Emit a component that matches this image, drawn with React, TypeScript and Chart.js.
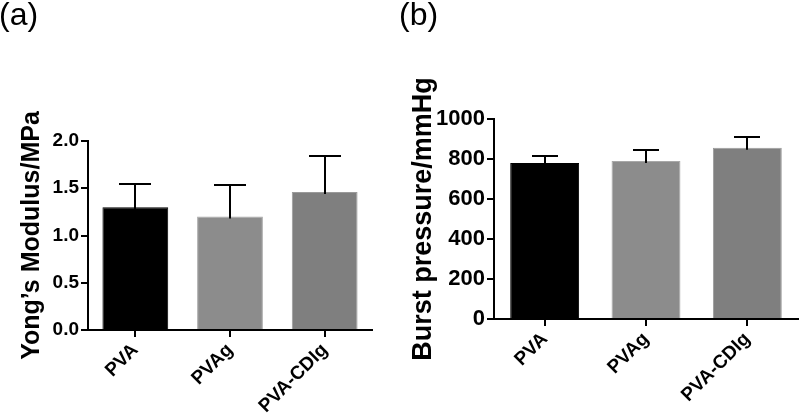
import React, { useEffect, useRef } from "react";
import { Chart, registerables } from "chart.js";

Chart.register(...registerables);

const categories = ["PVA", "PVAg", "PVA-CDIg"];
const modulusValues = [1.3, 1.2, 1.46];
const modulusSd = [0.24, 0.335, 0.385];
const burstValues = [780, 790, 856];
const burstSd = [35, 57, 52];
const modulusTicks = [0, 0.5, 1.0, 1.5, 2.0];
const burstTicks = [0, 200, 400, 600, 800, 1000];
const barColors = ["#000000", "#8c8c8c", "#7f7f7f"];
const barBorders = ["#000000", "#a8a8a8", "#9a9a9a"];

const FONT = "'Liberation Sans', Arial, sans-serif";
const H = 415;

type PanelCfg = {
  values: number[];
  sd: number[];
  ticks: number[];
  title: string;
  titleSize: number;
  tickSize: number;
  xTickSize: number;
  axisX: number;
  titleX: number;
  bottomY: number;
  padRight: number;
  padTop: number;
  barPct: number;
  capHalf: number;
  decimals: number;
};

function makeChart(canvas: HTMLCanvasElement, cfg: PanelCfg) {
  const errorBars = {
    id: "errorBars",
    afterDatasetsDraw(chart: any) {
      const meta = chart.getDatasetMeta(0);
      const ys = chart.scales.y;
      const ctx = chart.ctx;
      ctx.save();
      ctx.strokeStyle = "#000";
      ctx.lineWidth = 2;
      meta.data.forEach((bar: any, i: number) => {
        const x = Math.round(bar.x);
        const y0 = ys.getPixelForValue(cfg.values[i]);
        const y1 = Math.round(ys.getPixelForValue(cfg.values[i] + cfg.sd[i]));
        ctx.beginPath();
        ctx.moveTo(x, y0 + 2);
        ctx.lineTo(x, y1);
        ctx.moveTo(x - cfg.capHalf, y1);
        ctx.lineTo(x + cfg.capHalf, y1);
        ctx.stroke();
      });
      ctx.restore();
    },
  };
  const titleLH = cfg.titleSize * 1.2;
  const chart: any = new Chart(canvas, {
    type: "bar",
    data: {
      labels: categories,
      datasets: [
        {
          data: cfg.values,
          backgroundColor: barColors,
          borderColor: barBorders,
          borderWidth: 1,
          barPercentage: cfg.barPct,
          categoryPercentage: 1,
        },
      ],
    },
    options: {
      responsive: false,
      animation: false,
      devicePixelRatio: 1,
      layout: {
        padding: { left: 0, right: cfg.padRight, top: cfg.padTop, bottom: 0 },
      },
      plugins: { legend: { display: false }, tooltip: { enabled: false }, title: { display: false } },
      scales: {
        x: {
          type: "category",
          offset: true,
          grid: {
            display: true,
            offset: false,
            drawOnChartArea: false,
            drawTicks: true,
            tickLength: 7,
            tickWidth: 2,
            tickColor: "#000",
            color: "#000",
            lineWidth: 2,
          },
          border: { display: true, color: "#000", width: 2 },
          ticks: {
            color: "#000",
            font: { family: FONT, size: cfg.xTickSize, weight: 700 },
            minRotation: 45,
            maxRotation: 45,
            padding: 2,
            autoSkip: false,
          },
        },
        y: {
          type: "linear",
          min: cfg.ticks[0],
          max: cfg.ticks[cfg.ticks.length - 1],
          afterBuildTicks: (s: any) => {
            s.ticks = cfg.ticks.map((v) => ({ value: v }));
          },
          grid: {
            display: true,
            drawOnChartArea: false,
            drawTicks: true,
            tickLength: 7,
            tickWidth: 2,
            tickColor: "#000",
            color: "#000",
            lineWidth: 2,
          },
          border: { display: true, color: "#000", width: 2 },
          ticks: {
            color: "#000",
            font: { family: FONT, size: cfg.tickSize, weight: 700 },
            padding: 2,
            callback: (v: any) => Number(v).toFixed(cfg.decimals),
          },
          title: {
            display: true,
            text: cfg.title,
            color: "#000",
            font: { family: FONT, size: cfg.titleSize, weight: 700, lineHeight: 1.2 },
            padding: { top: 0, bottom: 0 },
          },
        },
      },
    },
    plugins: [errorBars],
  } as any);

  // second pass: place the axis lines where the reference has them
  const wy = chart.scales.y.width;
  const hx = chart.scales.x.height;
  const rest = wy - titleLH;
  const padLeft = cfg.titleX - titleLH / 2;
  const pb = cfg.axisX - padLeft - titleLH - rest;
  chart.options.layout.padding = {
    left: padLeft,
    right: cfg.padRight,
    top: cfg.padTop,
    bottom: H - cfg.bottomY - hx,
  };
  chart.options.scales.y.title.padding = { top: 0, bottom: pb };
  chart.update();
  return chart;
}

function Panel({ cfg, left, label }: { cfg: PanelCfg; left: number; label: string }) {
  const ref = useRef<HTMLCanvasElement>(null);
  useEffect(() => {
    if (!ref.current) return;
    const c = makeChart(ref.current, cfg);
    return () => c.destroy();
  }, []);
  return (
    <div style={{ position: "absolute", left, top: 0, width: 400, height: H }}>
      <canvas ref={ref} width={400} height={H} style={{ display: "block", width: 400, height: H }} />
      <div
        style={{
          position: "absolute",
          left: -1,
          top: -2,
          fontFamily: FONT,
          fontSize: 32,
          lineHeight: 1,
          color: "#000",
        }}
      >
        {label}
      </div>
    </div>
  );
}

const panelA: PanelCfg = {
  values: modulusValues,
  sd: modulusSd,
  ticks: modulusTicks,
  title: "Yong’s Modulus/MPa",
  titleSize: 25,
  tickSize: 19,
  xTickSize: 19,
  axisX: 88,
  titleX: 32,
  bottomY: 330,
  padRight: 28,
  padTop: 141,
  barPct: 0.695,
  capHalf: 16,
  decimals: 1,
};

const panelB: PanelCfg = {
  values: burstValues,
  sd: burstSd,
  ticks: burstTicks,
  title: "Burst pressure/mmHg",
  titleSize: 27,
  tickSize: 22,
  xTickSize: 19,
  axisX: 94,
  titleX: 23.5,
  bottomY: 319,
  padRight: 2,
  padTop: 119,
  barPct: 0.68,
  capHalf: 13,
  decimals: 0,
};

export default function App() {
  return (
    <div style={{ position: "fixed", left: 0, top: 0, width: 800, height: H, background: "#fff", overflow: "hidden" }}>
      <Panel cfg={panelA} left={0} label="(a)" />
      <Panel cfg={panelB} left={400} label="(b)" />
    </div>
  );
}
